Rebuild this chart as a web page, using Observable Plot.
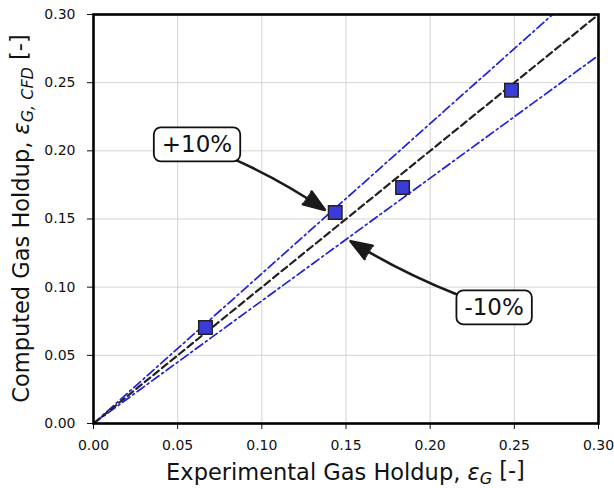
<!DOCTYPE html>
<html><head><meta charset="utf-8">
<script src="https://cdn.jsdelivr.net/npm/d3@7"></script>
<script src="https://cdn.jsdelivr.net/npm/@observablehq/plot@0.6"></script>
<style>body{margin:0;background:#fff;font-family:"DejaVu Sans",sans-serif}</style>
</head><body><div id="chart"></div>
<script>
// Data
const expHoldup = [0.0665, 0.1436, 0.1836, 0.2483];
const cfdHoldup = [0.0704, 0.1548, 0.1731, 0.2445];
const axisTicks = [0, 0.05, 0.10, 0.15, 0.20, 0.25, 0.30];
const parityFactor = [1];
const boundFactors = [1.1, 0.9];
const refRange = [0, 0.3];
const annotLabels = ["+10%", "-10%"];
const annotX = [0.0615, 0.238];
const annotY = [0.2043, 0.0847];
const arrowX1 = [0.0850, 0.2160];
const arrowY1 = [0.1930, 0.0946];
const arrowX2 = [0.1374, 0.1527];
const arrowY2 = [0.1567, 0.1337];

const points = expHoldup.map((x, i) => ({x, y: cfdHoldup[i]}));
const refRows = factors => factors.flatMap(f => refRange.map(x => ({f, x, y: f * x})));
const annots = annotLabels.map((t, i) => ({t, x: annotX[i], y: annotY[i]}));
const arrows = arrowX1.map((x1, i) => ({x1, y1: arrowY1[i], x2: arrowX2[i], y2: arrowY2[i]}));

const plot = Plot.plot({
  width: 614, height: 488,
  marginLeft: 93, marginRight: 16, marginTop: 14, marginBottom: 65,
  style: {fontFamily: "DejaVu Sans", fontSize: "14px", color: "#111", background: "#fff"},
  x: {domain: [0, 0.3], ticks: axisTicks, tickFormat: d3.format(".2f"), label: null, tickSize: 6, tickPadding: 11},
  y: {domain: [0, 0.3], ticks: axisTicks, tickFormat: d3.format(".2f"), label: null, tickSize: 6, tickPadding: 12},
  marks: [
    Plot.gridX(axisTicks, {stroke: "#d4d4d4", strokeOpacity: 1, strokeWidth: 1}),
    Plot.gridY(axisTicks, {stroke: "#d4d4d4", strokeOpacity: 1, strokeWidth: 1}),
    Plot.line(refRows(boundFactors), {x: "x", y: "y", z: "f", stroke: "#1e1ee0", strokeWidth: 1.7, strokeDasharray: "9,3.5,2,3.5", clip: true}),
    Plot.line(refRows(parityFactor), {x: "x", y: "y", z: "f", stroke: "#222", strokeWidth: 2.2, strokeDasharray: "7,4", clip: true}),
    Plot.dot(points, {x: "x", y: "y", symbol: "square", r: 7.6, fill: "#3b3bd9", stroke: "#222", strokeWidth: 1.5}),
    Plot.arrow(arrows, {x1: "x1", y1: "y1", x2: "x2", y2: "y2", bend: 5, stroke: "#1a1a1a", strokeWidth: 2.6, headLength: 13, headAngle: 40}),
    Plot.text(annots, {x: "x", y: "y", text: "t", fontSize: 23, fill: "#111"}),
    Plot.frame({stroke: "#000", strokeWidth: 2.6})
  ]
});
document.getElementById("chart").appendChild(plot);

const svg = d3.select(plot);
// rounded boxes behind annotation texts
svg.selectAll("text").filter(function() { return annotLabels.includes(this.textContent); }).each(function() {
  const b = this.getBBox();
  const padX = 8, padY = 4;
  const r = document.createElementNS("http://www.w3.org/2000/svg", "rect");
  r.setAttribute("x", b.x - padX); r.setAttribute("y", b.y - padY);
  r.setAttribute("width", b.width + 2 * padX); r.setAttribute("height", b.height + 2 * padY);
  r.setAttribute("rx", 7); r.setAttribute("ry", 7);
  r.setAttribute("fill", "#fff"); r.setAttribute("stroke", "#111"); r.setAttribute("stroke-width", 1.8);
  const tr = this.getAttribute("transform");
  if (tr) r.setAttribute("transform", tr);
  this.parentNode.insertBefore(r, this);
});

// filled arrow heads from the arrow mark's own head geometry
svg.selectAll("path").each(function() {
  const d = this.getAttribute("d") || "";
  const m = d.match(/M([^MAL]+)L([^MAL]+)L([^MAL]+)$/);
  if (!m || !/A/.test(d)) return;
  const head = document.createElementNS("http://www.w3.org/2000/svg", "path");
  head.setAttribute("d", `M${m[1]}L${m[2]}L${m[3]}Z`);
  head.setAttribute("fill", "#1a1a1a");
  head.setAttribute("stroke", "#1a1a1a");
  head.setAttribute("stroke-width", 1);
  head.setAttribute("stroke-linejoin", "miter");
  this.parentNode.appendChild(head);
});

// axis labels with italic math
const xl = svg.append("text")
  .attr("x", 93 + (614 - 93 - 16) / 2).attr("y", 480)
  .attr("text-anchor", "middle").attr("font-size", 22.5).attr("fill", "#111");
xl.append("tspan").text("Experimental Gas Holdup, ");
xl.append("tspan").attr("font-style", "italic").text("ε");
xl.append("tspan").attr("font-style", "italic").attr("font-size", 16).attr("dy", "0.28em").text("G");
xl.append("tspan").attr("dy", "-0.28em").text(" [-]");

const yl = svg.append("text")
  .attr("transform", `translate(29,${14 + (488 - 14 - 65) / 2}) rotate(-90)`)
  .attr("text-anchor", "middle").attr("font-size", 22.5).attr("fill", "#111");
yl.append("tspan").text("Computed Gas Holdup, ");
yl.append("tspan").attr("font-style", "italic").text("ε");
yl.append("tspan").attr("font-style", "italic").attr("font-size", 16).attr("dy", "0.28em").text("G, CFD");
yl.append("tspan").attr("dy", "-0.28em").text(" [-]");
</script>
</body></html>
